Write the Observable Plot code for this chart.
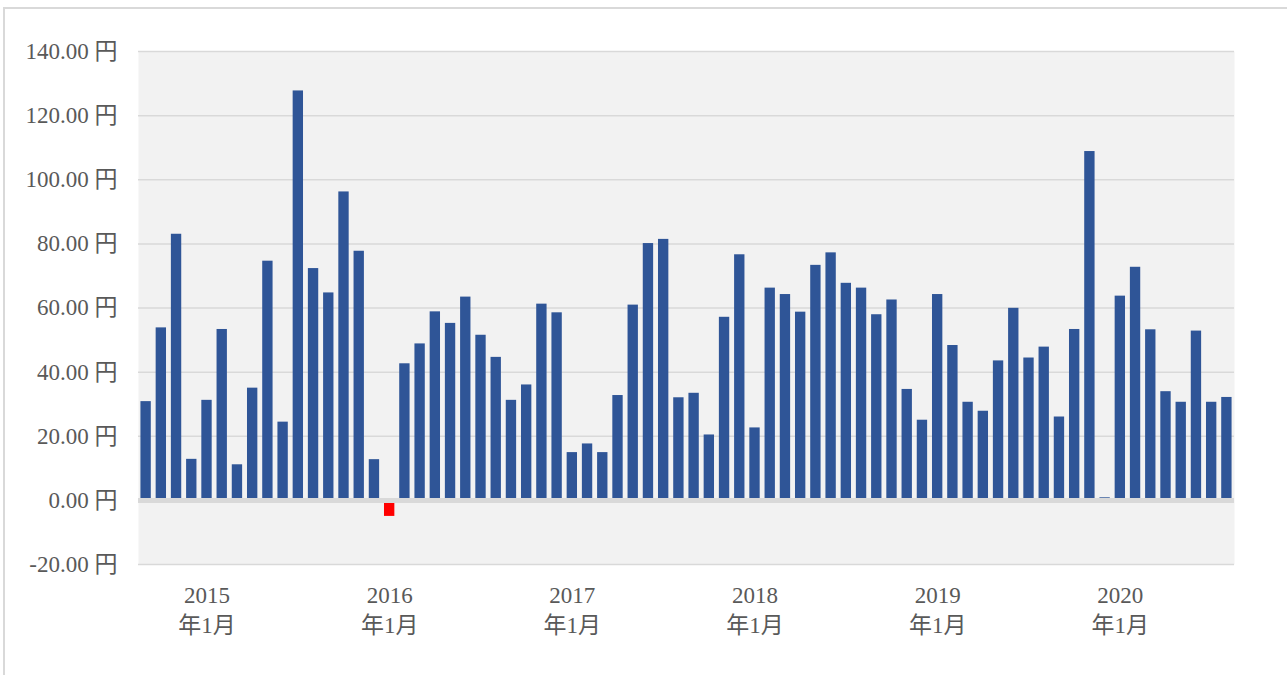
<!DOCTYPE html>
<html>
<head>
<meta charset="utf-8">
<script src="https://cdn.jsdelivr.net/npm/d3@7"></script>
<script src="https://cdn.jsdelivr.net/npm/@observablehq/plot@0.6"></script>
<style>
  html, body { margin: 0; padding: 0; background: #ffffff; overflow: hidden; }
  #wrap { position: relative; width: 1287px; height: 675px; }
  #chart { position: absolute; left: 0; top: 0; }
  #border { position: absolute; left: 3px; top: 7px; width: 1300px; height: 700px;
            border-top: 2px solid #d9d9d9; border-left: 2px solid #d9d9d9; pointer-events: none; }
</style>
</head>
<body>
<div id="wrap"><div id="chart"></div><div id="border"></div></div>
<script>
const months = [
  "2014-09","2014-10","2014-11","2014-12",
  "2015-01","2015-02","2015-03","2015-04","2015-05","2015-06","2015-07","2015-08","2015-09","2015-10","2015-11","2015-12",
  "2016-01","2016-02","2016-03","2016-04","2016-05","2016-06","2016-07","2016-08","2016-09","2016-10","2016-11","2016-12",
  "2017-01","2017-02","2017-03","2017-04","2017-05","2017-06","2017-07","2017-08","2017-09","2017-10","2017-11","2017-12",
  "2018-01","2018-02","2018-03","2018-04","2018-05","2018-06","2018-07","2018-08","2018-09","2018-10","2018-11","2018-12",
  "2019-01","2019-02","2019-03","2019-04","2019-05","2019-06","2019-07","2019-08","2019-09","2019-10","2019-11","2019-12",
  "2020-01","2020-02","2020-03","2020-04","2020-05","2020-06","2020-07","2020-08"
];
const values = [
  30.8, 53.8, 83.0, 12.8,
  31.2, 53.3, 11.1, 35.0, 74.6, 24.4, 127.7, 72.3, 64.7, 96.2, 77.7, 12.7,
  -5.0, 42.6, 48.8, 58.8, 55.2, 63.4, 51.5, 44.6, 31.2, 36.0, 61.2, 58.5,
  14.9, 17.6, 14.9, 32.7, 60.9, 80.1, 81.4, 32.0, 33.4, 20.4, 57.1, 76.6,
  22.6, 66.2, 64.2, 58.7, 73.3, 77.2, 67.7, 66.2, 57.9, 62.5, 34.6, 25.0,
  64.2, 48.3, 30.6, 27.8, 43.5, 59.9, 44.4, 47.8, 26.0, 53.3, 108.8, 0.8,
  63.7, 72.7, 53.2, 33.9, 30.6, 52.8, 30.6, 32.1
];
const yTicks = [-20, 0, 20, 40, 60, 80, 100, 120, 140];
const xTicks = ["2015-01","2016-01","2017-01","2018-01","2019-01","2020-01"];
const xTickLabels = ["2015\n年1月","2016\n年1月","2017\n年1月","2018\n年1月","2019\n年1月","2020\n年1月"];

const data = months.map((m, i) => ({month: m, value: values[i]}));
const font = "'Liberation Serif', 'Noto Sans CJK JP', serif";

const chart = Plot.plot({
  width: 1287,
  height: 675,
  marginLeft: 138,
  marginRight: 53,
  marginTop: 51,
  marginBottom: 111,
  style: {fontFamily: font, fontSize: "22px", color: "#595959", background: "transparent"},
  x: {type: "band", domain: months, paddingInner: 0.32, paddingOuter: 0.16, round: false, label: null},
  y: {domain: [-20, 140], label: null},
  color: {type: "identity"},
  marks: [
    Plot.frame({fill: "#f2f2f2", stroke: null}),
    Plot.gridY(yTicks, {stroke: "#d9d9d9", strokeOpacity: 1, strokeWidth: 1.5}),
    Plot.barY(data, {x: "month", y: "value", fill: d => d.value < 0 ? "#ff0000" : "#2f5597"}),
    Plot.ruleY([0], {stroke: "#d9d9d9", strokeWidth: 5}),
    Plot.axisY(yTicks, {tickSize: 0, tickPadding: 21, fontSize: 23, fill: "#595959",
      tickFormat: d => d.toFixed(2) + " 円"}),
    Plot.axisX(xTicks, {tickSize: 0, tickPadding: 17, fontSize: 23, lineHeight: 1.3, fill: "#595959",
      tickFormat: d => xTickLabels[xTicks.indexOf(d)]})
  ]
});
document.getElementById("chart").appendChild(chart);
</script>
</body>
</html>
